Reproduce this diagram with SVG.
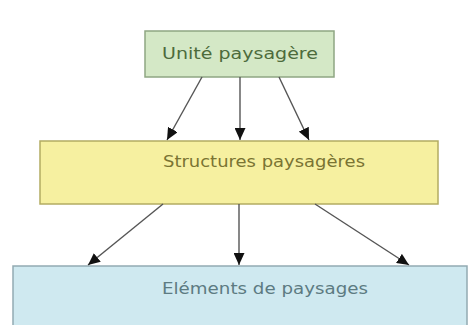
<svg xmlns="http://www.w3.org/2000/svg" width="468" height="325" viewBox="0 0 468 325">
<style>
.t{font-family:"DejaVu Sans","Liberation Sans",sans-serif;font-size:15px;text-anchor:middle}
.c{stroke:#555;stroke-width:1.4;fill:none;marker-end:url(#ah)}
</style>
<defs>
<marker id="ah" viewBox="0 0 10 10" refX="10" refY="5" markerWidth="12" markerHeight="11" markerUnits="userSpaceOnUse" orient="auto" preserveAspectRatio="none">
<path d="M0,0L10,5L0,10z" fill="#111"/>
</marker>
</defs>
<rect width="468" height="325" fill="#fff"/>
<g id="unite">
<rect x="145" y="31" width="189" height="46" fill="#d4e8c6" stroke="#8fa683" stroke-width="1.5"/>
<text class="t" x="240" y="59" fill="#4d6b3c" textLength="156" lengthAdjust="spacingAndGlyphs">Unité paysagère</text>
</g>
<g id="structures">
<rect x="40" y="141" width="398" height="63" fill="#f6f0a0" stroke="#b3ac62" stroke-width="1.5"/>
<text class="t" x="264" y="167" fill="#7a7433" textLength="202" lengthAdjust="spacingAndGlyphs">Structures paysagères</text>
</g>
<g id="elements">
<rect x="13" y="266" width="454" height="70" fill="#cfe9f0" stroke="#93aab2" stroke-width="1.5"/>
<text class="t" x="265" y="294" fill="#5d7b82" textLength="206" lengthAdjust="spacingAndGlyphs">Eléments de paysages</text>
</g>
<g id="connectors">
<line class="c" x1="202" y1="77" x2="167" y2="140"/>
<line class="c" x1="240" y1="77" x2="240" y2="140"/>
<line class="c" x1="279" y1="77" x2="309" y2="140"/>
<line class="c" x1="163" y1="204" x2="88" y2="265"/>
<line class="c" x1="239" y1="204" x2="239" y2="265"/>
<line class="c" x1="315" y1="204" x2="409" y2="265"/>
</g>
</svg>
